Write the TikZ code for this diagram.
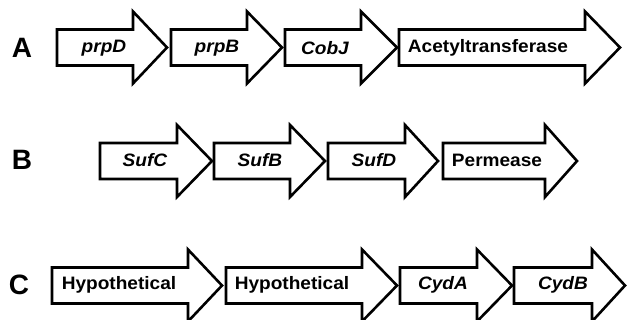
\documentclass[tikz,border=0pt]{standalone}
\usepackage{fontspec}
\setmainfont{Liberation Sans}
\newfontfamily\genefont[FakeStretch=1.06]{Liberation Sans}
\usetikzlibrary{positioning}

\begin{document}
\begin{tikzpicture}[x=1pt, y=-1pt,
    gene/.style={draw=black, line width=2.6pt, fill=white, line join=miter},
    genename/.style={font=\genefont\fontsize{18}{20}\selectfont\bfseries},
    rowlabel/.style={font=\fontsize{28}{30}\selectfont\bfseries}]
  \useasboundingbox (0,0) rectangle (627,320);
  % Zeile A
  \node[rowlabel] (rowA) at (22,48) {A};
  \foreach \l/\h/\t/\x/\name [count=\i] in {57/133/167/104/{\itshape prpD},
      171/247/282/217/{\itshape prpB}, 285/361/397/325/{\itshape CobJ},
      399/585/620/488/Acetyltransferase}{
    \draw[gene] (\l,29.5) -- (\h,29.5) -- (\h,11.5) -- (\t,47.5)
      -- (\h,83.5) -- (\h,65.5) -- (\l,65.5) -- cycle;
    \node[genename] (A\i) at (\x,48) {\name};
  }
  % Zeile B
  \node[rowlabel] (rowB) at (22,160) {B};
  \foreach \l/\h/\t/\x/\name [count=\i] in {100/177/212/145/{\itshape SufC},
      214/290/325/260/{\itshape SufB}, 328/405/438/374/{\itshape SufD},
      443/545/577/497/Permease}{
    \draw[gene] (\l,143) -- (\h,143) -- (\h,125) -- (\t,161)
      -- (\h,197) -- (\h,179) -- (\l,179) -- cycle;
    \node[genename] (B\i) at (\x,160) {\name};
  }
  % Zeile C
  \node[rowlabel] (rowC) at (19,285) {C};
  \foreach \l/\h/\t/\x/\name [count=\i] in {52/188/222/119/Hypothetical,
      226/362/397/292/Hypothetical, 400/477/512/443/{\itshape CydA},
      514/592/625/563/{\itshape CydB}}{
    \draw[gene] (\l,267.5) -- (\h,267.5) -- (\h,249.5) -- (\t,285.5)
      -- (\h,321.5) -- (\h,303.5) -- (\l,303.5) -- cycle;
    \node[genename] (C\i) at (\x,285) {\name};
  }
\end{tikzpicture}
\end{document}
